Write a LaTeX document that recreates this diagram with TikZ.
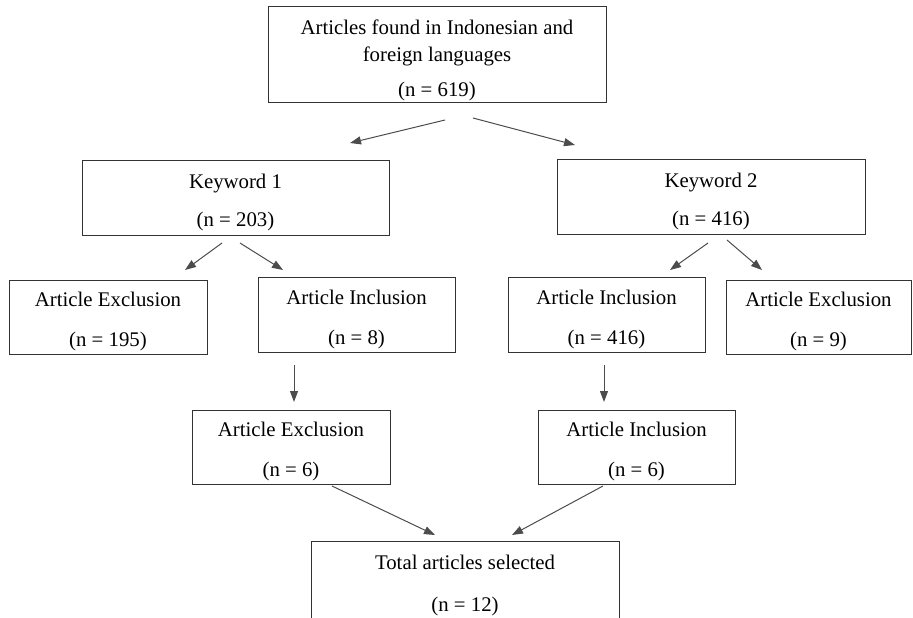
\documentclass[tikz,border=0pt]{standalone}
\usepackage{fontspec}
\setmainfont{Liberation Serif}
\usetikzlibrary{positioning, arrows.meta}
\tikzstyle{Box}=[draw=black!80, line width=1pt, align=center, inner sep=0pt, minimum width=197pt, minimum height=75pt, font=\fontsize{20.8}{25}\selectfont]
\tikzstyle{Arr}=[draw=black!70, line width=1pt, -{Triangle[length=11pt,width=8pt]}]
\newcommand{\topgap}[1][24pt]{\rule{0pt}{#1}}

\begin{document}
\begin{tikzpicture}[x=1pt, y=-1pt]
		\useasboundingbox (0,0) rectangle (913,618);
		\clip (0,0) rectangle (913,618);
		\node[Box, minimum width=338pt, minimum height=95pt] (top) at (437,54.5) {\topgap[27pt]Articles found in Indonesian and\\[2pt] foreign languages\\[10pt] (n = 619)};
		\node[Box, minimum width=307pt] (k1) at (235.5,197.5) {\topgap Keyword 1\\[13pt] (n = 203)};
		\node[Box, minimum width=308pt] (k2) at (711,196.5) {\topgap Keyword 2\\[13pt] (n = 416)};
		\node[Box, minimum width=198pt, minimum height=74pt] (ex1) at (108,317) {\topgap Article Exclusion\\[15pt] (n = 195)};
		\node[Box] (in1) at (356.5,314.5) {\topgap Article Inclusion\\[15pt] (n = 8)};
		\node[Box, right=52pt of in1] (in2) {\topgap Article Inclusion\\[15pt] (n = 416)};
		\node[Box, minimum width=185pt, minimum height=74pt] (ex2) at (818.5,317) {\topgap Article Exclusion\\[15pt] (n = 9)};
		\node[Box, minimum width=198pt, minimum height=74pt] (ex3) at (291,447) {\topgap Article Exclusion\\[15pt] (n = 6)};
		\node[Box, minimum height=74pt] (in3) at (636.5,447) {\topgap Article Inclusion\\[15pt] (n = 6)};
		\node[Box, minimum width=308pt, minimum height=79pt] (tot) at (465,580.5) {\topgap Total articles selected\\[17pt] (n = 12)};
		% arrow ends
		\coordinate (top-l) at (445,120);
		\coordinate (top-r) at (473,118);
		\coordinate (k1-in) at (350,143);
		\coordinate (k2-in) at (575,145);
		\coordinate (k1-l) at (222,243);
		\coordinate (k1-r) at (240,243);
		\coordinate (ex1-in) at (185,270);
		\coordinate (in1-in) at (283,270);
		\coordinate (k2-l) at (708,243);
		\coordinate (k2-r) at (727,240);
		\coordinate (in2-in) at (670,270);
		\coordinate (ex2-in) at (762,270);
		\coordinate (in1-out) at (294,365);
		\coordinate (ex3-in) at (294,402);
		\coordinate (in2-out) at (604,365);
		\coordinate (in3-in) at (604,402);
		\coordinate (ex3-out) at (332,486);
		\coordinate (in3-out) at (603,486);
		\coordinate (tot-l) at (435,535);
		\coordinate (tot-r) at (512,535);
		\draw[Arr] (top-l) -- (k1-in);
		\draw[Arr] (top-r) -- (k2-in);
		\draw[Arr] (k1-l) -- (ex1-in);
		\draw[Arr] (k1-r) -- (in1-in);
		\draw[Arr] (k2-l) -- (in2-in);
		\draw[Arr] (k2-r) -- (ex2-in);
		\draw[Arr] (in1-out) -- (ex3-in);
		\draw[Arr] (in2-out) -- (in3-in);
		\draw[Arr] (ex3-out) -- (tot-l);
		\draw[Arr] (in3-out) -- (tot-r);
\end{tikzpicture}
\end{document}
